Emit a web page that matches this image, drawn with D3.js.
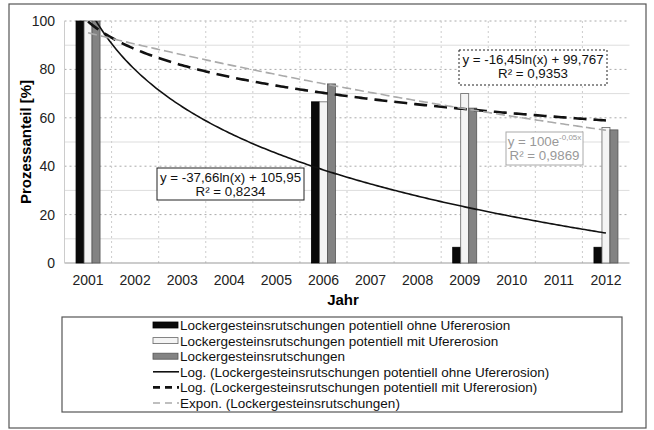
<!DOCTYPE html>
<html>
<head>
<meta charset="utf-8">
<script src="https://cdn.jsdelivr.net/npm/d3@7"></script>
<style>
  body { margin: 0; background: #fff; }
  text { font-family: "Liberation Sans", Arial, sans-serif; }
</style>
</head>
<body>
<svg width="654" height="430"></svg>
<script>
var years = ["2001","2002","2003","2004","2005","2006","2007","2008","2009","2010","2011","2012"];
var seriesNames = ["Lockergesteinsrutschungen potentiell ohne Ufererosion",
                   "Lockergesteinsrutschungen potentiell mit Ufererosion",
                   "Lockergesteinsrutschungen"];
// null = no value in that year
var ohneUfer = [100, null, null, null, null, 66.6, null, null, 6.5, null, null, 6.5];
var mitUfer  = [100, null, null, null, null, 66.6, null, null, 70, null, null, 56];
var gesamt   = [100, null, null, null, null, 74, null, null, 64, null, null, 55];
var yTicks = [0, 20, 40, 60, 80, 100];
var legendLabels = seriesNames.concat([
  "Log. (Lockergesteinsrutschungen potentiell ohne Ufererosion)",
  "Log. (Lockergesteinsrutschungen potentiell mit Ufererosion)",
  "Expon. (Lockergesteinsrutschungen)"]);

var svg = d3.select("svg"),
    plot = {left: 64.5, right: 629.5, top: 21, bottom: 263};

// outer frame
svg.append("rect").attr("x", 9).attr("y", 4).attr("width", 637).attr("height", 424)
    .attr("fill", "none").attr("stroke", "#555").attr("stroke-width", 1.2);

var x = d3.scaleBand().domain(years).range([plot.left, plot.right]);
var xs = d3.scaleBand().domain(d3.range(3)).range([0, 24]);
var y = d3.scaleLinear().domain([0, 100]).range([plot.bottom, plot.top]);

// grid
var grid = svg.append("g");
grid.selectAll("line.h").data(d3.range(10, 101, 10)).enter().append("line")
    .attr("x1", plot.left).attr("x2", plot.right)
    .attr("y1", function(d){ return y(d); }).attr("y2", function(d){ return y(d); })
    .attr("stroke", function(d){ return d % 20 === 0 ? "#aaa" : "#ddd"; })
    .attr("stroke-dasharray", function(d){ return d % 20 === 0 ? "2,3" : null; });
grid.selectAll("line.v").data(years.slice(1)).enter().append("line")
    .attr("x1", function(d){ return x(d); }).attr("x2", function(d){ return x(d); })
    .attr("y1", plot.top).attr("y2", plot.bottom)
    .attr("stroke", "#ccc").attr("stroke-dasharray", "2,3");

// axes
svg.append("line").attr("x1", plot.left).attr("x2", plot.right)
    .attr("y1", plot.bottom).attr("y2", plot.bottom).attr("stroke", "#999");
svg.append("line").attr("x1", plot.left).attr("x2", plot.left)
    .attr("y1", plot.top).attr("y2", plot.bottom).attr("stroke", "#ccc");

svg.append("g").selectAll("text").data(yTicks).enter().append("text")
    .attr("x", 55).attr("y", function(d){ return y(d) + 5; })
    .attr("text-anchor", "end").attr("font-size", 14).attr("fill", "#222")
    .text(function(d){ return d; });
svg.append("g").selectAll("text").data(years).enter().append("text")
    .attr("x", function(d){ return x(d) + x.bandwidth() / 2; }).attr("y", 285)
    .attr("text-anchor", "middle").attr("font-size", 14).attr("fill", "#222")
    .text(function(d){ return d; });

svg.append("text").attr("transform", "translate(31," + ((plot.top + plot.bottom) / 2) + ") rotate(-90)")
    .attr("text-anchor", "middle").attr("font-size", 15).attr("font-weight", "bold")
    .text("Prozessanteil [%]");
svg.append("text").attr("x", 343).attr("y", 305).attr("text-anchor", "middle")
    .attr("font-size", 15).attr("font-weight", "bold").text("Jahr");

// bars
var fills = ["#0a0a0a", "#f4f4f4", "#838383"],
    strokes = ["#000", "#666", "#555"];
[ohneUfer, mitUfer, gesamt].forEach(function(vals, s) {
  svg.append("g").selectAll("rect").data(years.map(function(yr, i){ return {year: yr, v: vals[i]}; })
      .filter(function(d){ return d.v !== null; }))
    .enter().append("rect")
    .attr("x", function(d){ return x(d.year) + x.bandwidth() / 2 - 12 + xs(s); })
    .attr("width", xs.bandwidth())
    .attr("y", function(d){ return y(d.v); })
    .attr("height", function(d){ return plot.bottom - y(d.v); })
    .attr("fill", fills[s]).attr("stroke", strokes[s]).attr("stroke-width", 0.8);
});

// trendlines from the printed equations, x = 1..12
svg.append("clipPath").attr("id", "clip").append("rect")
    .attr("x", plot.left).attr("y", plot.top).attr("width", plot.right - plot.left)
    .attr("height", plot.bottom - plot.top);
var xi = function(t){ return x(years[0]) + x.bandwidth() / 2 + (t - 1) * x.step(); };
var ts = d3.range(1, 12.001, 0.05);
var line = d3.line().x(function(d){ return xi(d[0]); }).y(function(d){ return y(d[1]); });
var trends = [
  {f: function(t){ return -37.66 * Math.log(t) + 105.95; }, c: "#111", w: 1.6, dash: null},
  {f: function(t){ return -16.45 * Math.log(t) + 99.767; }, c: "#111", w: 2.6, dash: "13,7"},
  {f: function(t){ return 100 * Math.exp(-0.05 * t); }, c: "#aaa", w: 1.6, dash: "9,4"}
];
var tg = svg.append("g").attr("clip-path", "url(#clip)");
trends.forEach(function(tr) {
  tg.append("path").datum(ts.map(function(t){ return [t, tr.f(t)]; }))
    .attr("d", line).attr("fill", "none").attr("stroke", tr.c)
    .attr("stroke-width", tr.w).attr("stroke-dasharray", tr.dash);
});

// equation labels
function eqBox(bx, by, bw, bh, stroke, dash, color, l1, l2) {
  var g = svg.append("g");
  g.append("rect").attr("x", bx).attr("y", by).attr("width", bw).attr("height", bh)
    .attr("fill", "#fff").attr("stroke", stroke).attr("stroke-dasharray", dash);
  var t1 = g.append("text").attr("x", bx + bw / 2).attr("y", by + 14).attr("text-anchor", "middle")
    .attr("font-size", 13.3).attr("fill", color);
  l1(t1);
  g.append("text").attr("x", bx + bw / 2).attr("y", by + 28).attr("text-anchor", "middle")
    .attr("font-size", 13.3).attr("fill", color).text(l2);
}
eqBox(157, 168, 147, 32, "#222", null, "#111",
  function(t){ t.text("y = -37,66ln(x) + 105,95"); }, "R² = 0,8234");
eqBox(459, 50, 148, 35, "#222", "2,2", "#111",
  function(t){ t.text("y = -16,45ln(x) + 99,767"); }, "R² = 0,9353");
eqBox(506, 132, 77, 33, "#aaa", null, "#999",
  function(t){ t.text("y = 100e"); t.append("tspan").attr("font-size", 8).attr("dy", -6).text("-0,05x"); },
  "R² = 0,9869");

// legend
var leg = svg.append("g");
leg.append("rect").attr("x", 62).attr("y", 317).attr("width", 560).attr("height", 95)
    .attr("fill", "#fff").attr("stroke", "#555").attr("stroke-width", 1.2);
var items = leg.selectAll("g").data(legendLabels).enter().append("g")
    .attr("transform", function(d, i){ return "translate(152," + (325 + i * 15.6) + ")"; });
items.append("text").attr("x", 28).attr("y", 5).attr("font-size", 13.5).attr("fill", "#111")
    .text(function(d){ return d; });
items.filter(function(d, i){ return i < 3; }).append("rect")
    .attr("x", 1).attr("y", -3).attr("width", 25).attr("height", 6)
    .attr("fill", function(d, i){ return fills[i]; })
    .attr("stroke", function(d, i){ return strokes[i]; }).attr("stroke-width", 0.8);
items.filter(function(d, i){ return i >= 3; }).append("line")
    .attr("x1", 1).attr("x2", 27).attr("y1", 0).attr("y2", 0)
    .attr("stroke", function(d, i){ return trends[i].c; })
    .attr("stroke-width", function(d, i){ return trends[i].w; })
    .attr("stroke-dasharray", function(d, i){ return trends[i].dash ? "7,5" : null; });
</script>
</body>
</html>
